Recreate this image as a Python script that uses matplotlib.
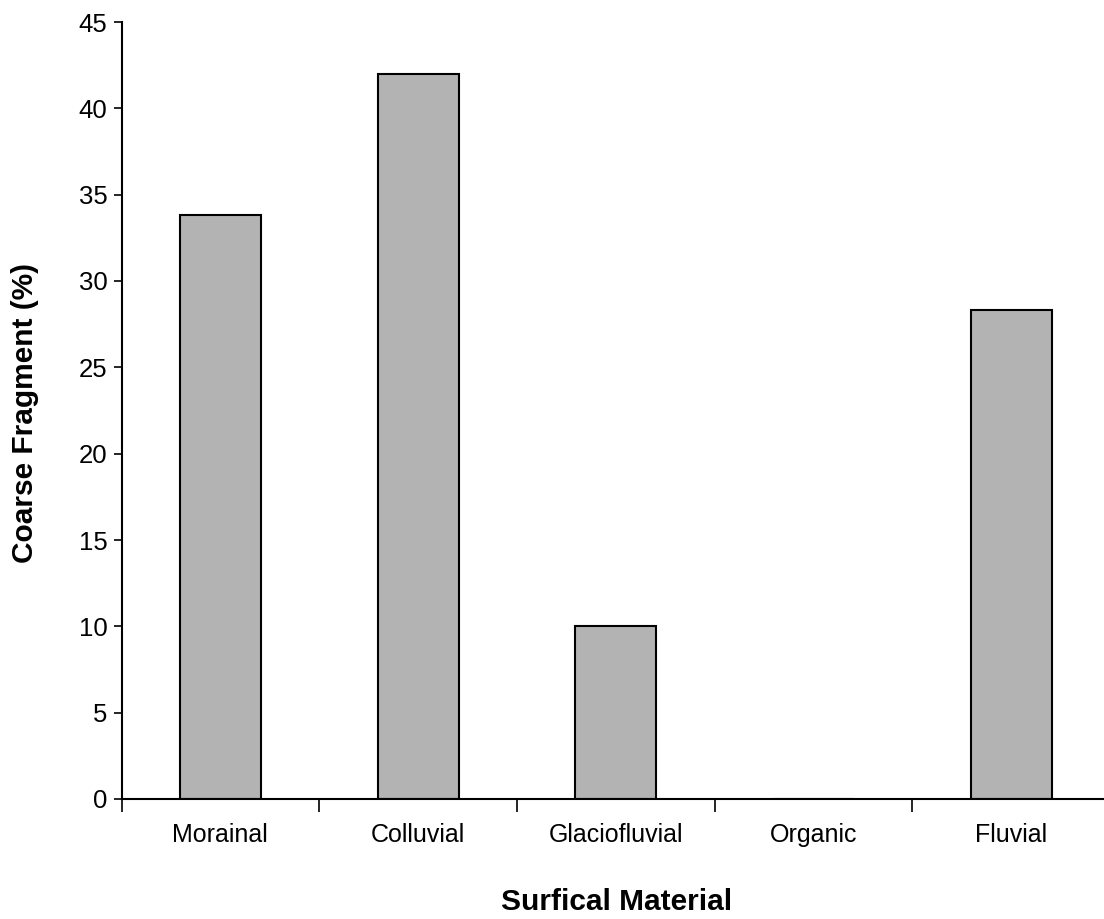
import matplotlib
matplotlib.use("Agg")
import matplotlib.pyplot as plt
import numpy as np

categories = ["Morainal", "Colluvial", "Glaciofluvial", "Organic", "Fluvial"]
values = [33.8, 42.0, 10.0, 0.0, 28.3]
yticks = [0, 5, 10, 15, 20, 25, 30, 35, 40, 45]

plt.rcParams['font.family'] = ['Liberation Sans', 'DejaVu Sans']

W, H = 1104, 919
fig = plt.figure(figsize=(W/100, H/100), dpi=100)
left, right, top, bottom = 121.5, 1110.0, 22.0, 799.0
ax = fig.add_axes([left/W, 1-bottom/H, (right-left)/W, (bottom-top)/H])

x = np.arange(len(categories))
ax.bar(x, values, width=0.41, color="#b3b3b3", edgecolor="black", linewidth=1.5)

ax.set_xlim(-0.5, len(categories)-0.5)
ax.set_ylim(0, 45)
ax.set_yticks(yticks)
ax.tick_params(axis='y', direction='out', length=6, width=1.2, labelsize=18.5, pad=4)

ax.set_xticks(np.arange(len(categories)+1)-0.5)
ax.set_xticklabels([])
ax.tick_params(axis='x', which='major', direction='out', length=9, width=1.2)
ax.set_xticks(x, minor=True)
ax.set_xticklabels(categories, minor=True)
ax.tick_params(axis='x', which='minor', length=0, labelsize=18, pad=17)

for s in ['top', 'right']:
    ax.spines[s].set_visible(False)
for s in ['left', 'bottom']:
    ax.spines[s].set_linewidth(1.5)

fig.text(25/W, 1-413/H, "Coarse Fragment (%)", rotation=90, ha='center', va='center',
         fontsize=21.5, fontweight='bold')
fig.text(617/W, 1-910/H, "Surfical Material", ha='center', va='baseline',
         fontsize=21.5, fontweight='bold')

fig.savefig("out.png", dpi=100)
